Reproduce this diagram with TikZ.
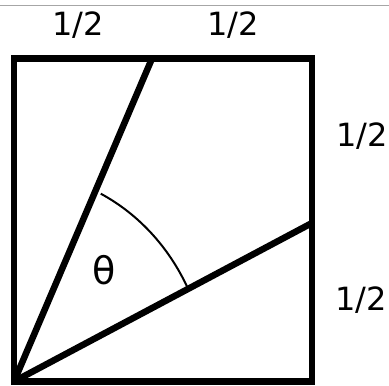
\documentclass[tikz,border=0pt]{standalone}
\usepackage{fontspec}
\setmainfont{DejaVu Sans}
\begin{document}
\begin{tikzpicture}[x=1pt,y=1pt,
  thick line/.style={line width=6.5pt},
  thin arc/.style={line width=2pt},
  lbl/.style={inner sep=0pt, font=\fontsize{32}{36}\selectfont},
  theta/.style={inner sep=0pt, font=\fontsize{38}{42}\selectfont}]
\useasboundingbox (0,0) rectangle (389,386);
\draw[gray!70, line width=1pt] (0,380) -- (389,380);
\coordinate (O) at (14,4.5);
\coordinate (BR) at (312,4.5);
\coordinate (TR) at (312,327.5);
\coordinate (TL) at (14,327.5);
\coordinate (P) at (152,327.5);
\coordinate (Q) at (312,163);
\draw[thick line, line join=miter] (O) -- (BR) -- (TR) -- (TL) -- cycle;
\draw[thick line] (O) -- (P);
\draw[thick line] (O) -- (Q);
\draw[thin arc] ([shift={(26.57:194 and 210)}]O) arc[start angle=26.57, end angle=63.43, x radius=194, y radius=210];
\node[theta] (th) at (104,116) {θ};
\node[lbl] (a) at (78,361) {1/2};
\node[lbl] (b) at (233,361) {1/2};
\node[lbl] (c) at (362,250) {1/2};
\node[lbl] (d) at (361,86) {1/2};
\end{tikzpicture}
\end{document}
